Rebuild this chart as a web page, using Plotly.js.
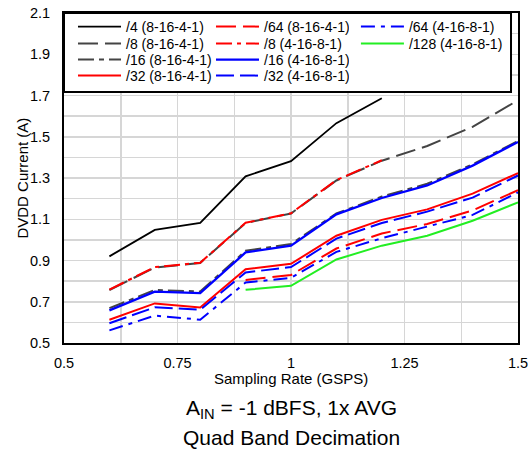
<!DOCTYPE html>
<html><head><meta charset="utf-8">
<script src="https://cdn.plot.ly/plotly-3.0.1.min.js"></script>
<style>html,body{margin:0;padding:0;background:#fff}</style>
</head><body><div id="chart" style="width:529px;height:456px"></div>
<script>
// Sampling rate (GSPS)
const rates = [0.6, 0.7, 0.8, 0.9, 1.0, 1.1, 1.2, 1.3, 1.4, 1.5];
const ratesTo12 = [0.6, 0.7, 0.8, 0.9, 1.0, 1.1, 1.2];
const ratesFrom09 = [0.9, 1.0, 1.1, 1.2, 1.3, 1.4, 1.5];

// DVDD current (A)
const div4_81641 = [0.920, 1.048, 1.082, 1.308, 1.382, 1.566, 1.687];
const div8_81641 = [0.757, 0.866, 0.888, 1.082, 1.128, 1.288, 1.384, 1.455, 1.548, 1.677];
const div16_81641 = [0.669, 0.757, 0.750, 0.947, 0.980, 1.128, 1.210, 1.272, 1.366, 1.480];
const div32_81641 = [0.613, 0.692, 0.672, 0.858, 0.884, 1.020, 1.097, 1.148, 1.224, 1.324];
const div64_81641 = [0.806, 0.830, 0.958, 1.031, 1.077, 1.143, 1.241];
const div8_41681 = [0.759, 0.868, 0.889, 1.083, 1.129, 1.290, 1.386];
const div16_41681 = [0.658, 0.749, 0.742, 0.939, 0.972, 1.124, 1.203, 1.264, 1.360, 1.475];
const div32_41681 = [0.596, 0.673, 0.661, 0.842, 0.868, 1.006, 1.082, 1.137, 1.205, 1.312];
const div64_41681 = [0.561, 0.633, 0.613, 0.793, 0.816, 0.942, 1.008, 1.066, 1.121, 1.230];
const div128_41681 = [0.758, 0.777, 0.905, 0.972, 1.020, 1.093, 1.182];

const seriesNames = ['/4 (8-16-4-1)', '/8 (8-16-4-1)', '/16 (8-16-4-1)', '/32 (8-16-4-1)', '/64 (8-16-4-1)',
  '/8 (4-16-8-1)', '/16 (4-16-8-1)', '/32 (4-16-8-1)', '/64 (4-16-8-1)', '/128 (4-16-8-1)'];

const xTickVals = [0.5, 0.75, 1, 1.25, 1.5];
const xTickText = ['0.5', '0.75', '1', '1.25', '1.5'];
const yTickVals = [0.5, 0.7, 0.9, 1.1, 1.3, 1.5, 1.7, 1.9, 2.1];
const yTickText = ['0.5', '0.7', '0.9', '1.1', '1.3', '1.5', '1.7', '1.9', '2.1'];

const xTitle = 'Sampling Rate (GSPS)';
const yTitle = 'DVDD Current (A)';
const subTitle1 = 'A<sub>IN</sub> = -1 dBFS, 1x AVG';
const subTitle2 = 'Quad Band Decimation';

const FONT = "'Liberation Sans', Arial, sans-serif";

function tr(name, x, y, color, dash, legend, width) {
  return {type: 'scatter', mode: 'lines', name: name, x: x, y: y,
    line: {color: color, dash: dash, width: width || 2}, legend: legend, hoverinfo: 'skip'};
}

const traces = [
  tr(seriesNames[0], ratesTo12, div4_81641, '#000000', 'solid', 'legend', 1.8),
  tr(seriesNames[1], rates, div8_81641, '#444444', '20px,7px', 'legend2'),
  tr(seriesNames[2], rates, div16_81641, '#444444', '16px,5px,5px,5px', 'legend3'),
  tr(seriesNames[3], rates, div32_81641, '#ff0000', 'solid', 'legend4'),
  tr(seriesNames[4], ratesFrom09, div64_81641, '#ff0000', '20px,7px', 'legend'),
  tr(seriesNames[5], ratesTo12, div8_41681, '#ff0000', '16px,5px,4px,5px', 'legend2'),
  tr(seriesNames[6], rates, div16_41681, '#0000ff', 'solid', 'legend3', 2.3),
  tr(seriesNames[7], rates, div32_41681, '#0000ff', '18px,6px', 'legend4'),
  tr(seriesNames[8], rates, div64_41681, '#0000ff', '14px,6px,4px,6px', 'legend5'),
  tr(seriesNames[9], ratesFrom09, div128_41681, '#22ee22', 'solid', 'legend6')
];

function leg(x, y, ew) {
  const l = {orientation: 'h', x: x, xanchor: 'left', y: y, yanchor: 'middle',
    bgcolor: 'rgba(0,0,0,0)', borderwidth: 0, font: {family: FONT, size: 14, color: '#000'},
    itemwidth: 43, traceorder: 'normal'};
  if (ew) l.entrywidth = ew;
  return l;
}

const row1 = 0.9576, row2 = 0.9061, row3 = 0.8576, row4 = 0.8091;
const gridColor = '#d6d6d6';
const layout = {
  width: 529, height: 456,
  margin: {l: 64, r: 11, t: 13, b: 113, pad: 0},
  paper_bgcolor: '#fff', plot_bgcolor: '#fff',
  font: {family: FONT, size: 14.5, color: '#000'},
  showlegend: true,
  xaxis: {
    range: [0.5, 1.5], tickmode: 'array', tickvals: xTickVals, ticktext: xTickText,
    showgrid: true, gridcolor: gridColor, gridwidth: 1.5, zeroline: false,
    minor: {tickmode: 'linear', tick0: 0.5, dtick: 0.125, showgrid: true, gridcolor: gridColor, gridwidth: 1.5},
    showline: true, mirror: true, linecolor: '#000', linewidth: 2, ticks: '',
    ticklabelstandoff: 6, tickfont: {size: 14.5}, automargin: false
  },
  yaxis: {
    range: [0.5, 2.1], tickmode: 'array', tickvals: yTickVals, ticktext: yTickText,
    showgrid: true, gridcolor: gridColor, gridwidth: 1.5, zeroline: false,
    minor: {tickmode: 'linear', tick0: 0.5, dtick: 0.1, showgrid: true, gridcolor: gridColor, gridwidth: 1.5},
    showline: true, mirror: true, linecolor: '#000', linewidth: 2, ticks: '',
    ticklabelstandoff: 9, tickfont: {size: 14.5}, automargin: false
  },
  legend: leg(0.0198, row1, 80),
  legend2: leg(0.0198, row2, 80),
  legend3: leg(0.0198, row3, 80),
  legend4: leg(0.0198, row4, 80),
  legend5: leg(0.643, row1),
  legend6: leg(0.643, row2),
  shapes: [{type: 'rect', xref: 'paper', yref: 'paper', x0: 0, x1: 0.9846, y0: 0.7606, y1: 1,
    line: {color: '#000', width: 2}, fillcolor: '#fff', layer: 'above'}],
  annotations: [
    {text: xTitle, xref: 'paper', yref: 'paper', x: 0.5, y: -0.108,
      xanchor: 'center', yanchor: 'middle', showarrow: false, font: {size: 15}},
    {text: yTitle, xref: 'paper', yref: 'paper', x: -0.0935, y: 0.5, textangle: -90,
      xanchor: 'center', yanchor: 'middle', showarrow: false, font: {size: 15}},
    {text: subTitle1, xref: 'paper', yref: 'paper', x: 0.5, y: -0.2000,
      xanchor: 'center', yanchor: 'middle', showarrow: false, font: {size: 21}},
    {text: subTitle2, xref: 'paper', yref: 'paper', x: 0.5, y: -0.2870,
      xanchor: 'center', yanchor: 'middle', showarrow: false, font: {size: 21}}
  ]
};

Plotly.newPlot('chart', traces, layout, {displayModeBar: false, staticPlot: true});
</script>
</body></html>
